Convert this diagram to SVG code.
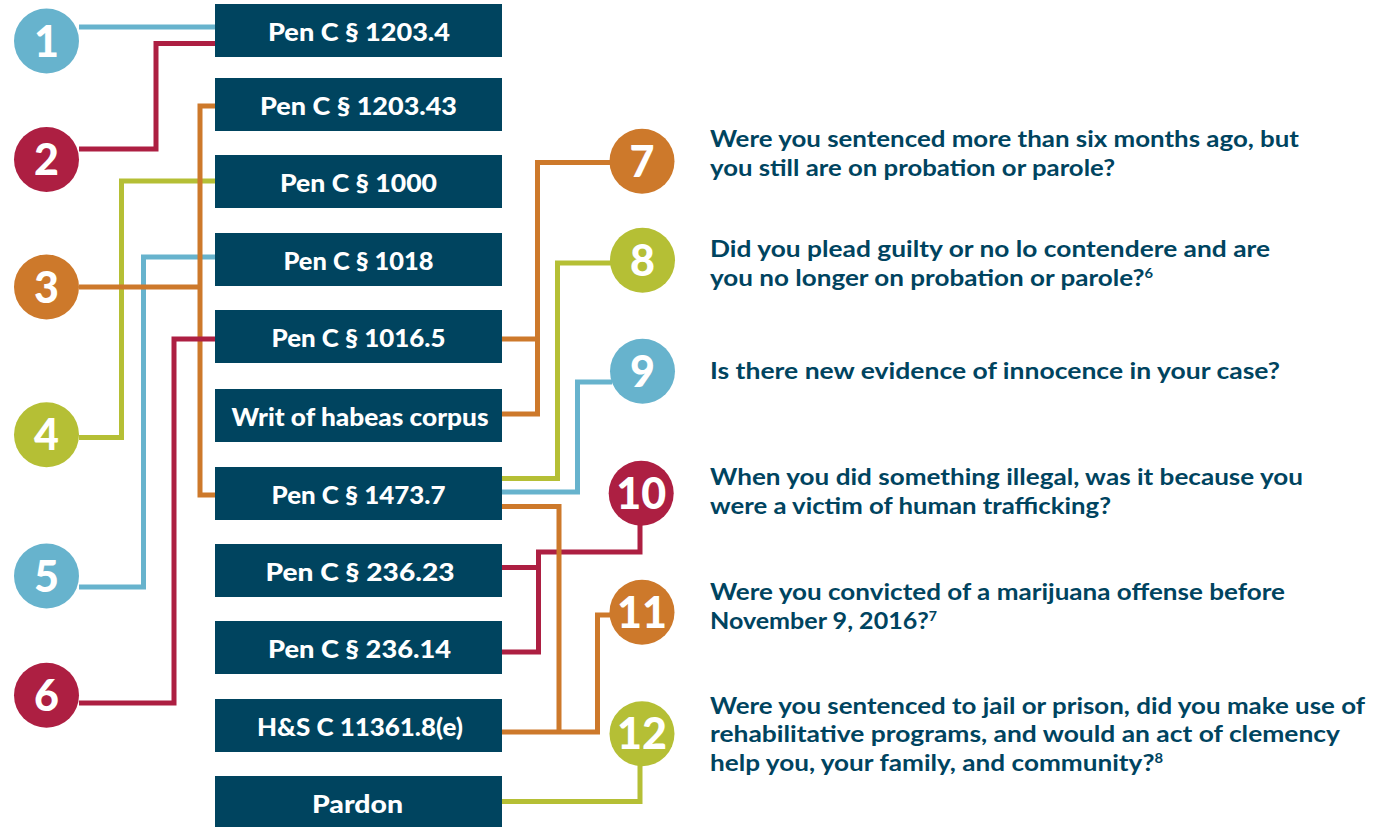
<svg xmlns="http://www.w3.org/2000/svg" width="1383" height="827" viewBox="0 0 1383 827">
<style>
.bx{fill:#00445f}
.bt{font-family:Lato,"Liberation Sans",sans-serif;font-weight:900;font-size:25px;fill:#ffffff;text-anchor:middle}
.cn{font-family:Lato,"Liberation Sans",sans-serif;font-weight:900;font-size:43px;fill:#ffffff;text-anchor:middle}
.q{font-family:Lato,"Liberation Sans",sans-serif;font-weight:700;font-size:23px;fill:#00445f}
.sup{font-size:13px}
.ln{fill:none;stroke-width:5;stroke-linejoin:miter;stroke-linecap:butt}
.blue{stroke:#67b3cd}.red{stroke:#ad1f42}.org{stroke:#cd792b}.grn{stroke:#b5bf35}
.fblue{fill:#67b3cd}.fred{fill:#ad1f42}.forg{fill:#cd792b}.fgrn{fill:#b5bf35}
</style>
<rect width="1383" height="827" fill="#ffffff"/>
<g id="connectors">
<path class="ln blue" d="M79 27 H216"/>
<path class="ln red" d="M79 149 H156 V43.5 H216"/>
<path class="ln grn" d="M79 437.5 H121.5 V181 H216"/>
<path class="ln blue" d="M79 587 H143.5 V257 H216"/>
<path class="ln org" d="M216 106 H200 V495 H216 M79 287 H200"/>
<path class="ln red" d="M79 703 H174 V339 H216"/>
<path class="ln org" d="M612 162.5 H537.5 V414 H502 M502 339 H537.5"/>
<path class="ln grn" d="M612 263 H557.5 V478.5 H502"/>
<path class="ln blue" d="M612 382 H577.5 V492 H502"/>
<path class="ln red" d="M640 524 V552 H538.5 V652 H502 M502 567.5 H538.5"/>
<path class="ln org" d="M502 506.5 H559 V732 H502 M612 615 H597.5 V732 H559"/>
<path class="ln grn" d="M640 764 V801.5 H502"/>
</g>
<g id="n1"><circle class="fblue" cx="46.5" cy="41" r="32.5"/><text class="cn" x="46.5" y="56.5">1</text></g>
<g id="n2"><circle class="fred" cx="46.5" cy="159.5" r="32.5"/><text class="cn" x="46.5" y="175">2</text></g>
<g id="n3"><circle class="forg" cx="46.5" cy="287" r="32.5"/><text class="cn" x="46.5" y="302.5">3</text></g>
<g id="n4"><circle class="fgrn" cx="46.5" cy="434.7" r="32.5"/><text class="cn" x="46.5" y="450">4</text></g>
<g id="n5"><circle class="fblue" cx="46.5" cy="576" r="32.5"/><text class="cn" x="46.5" y="591.5">5</text></g>
<g id="n6"><circle class="fred" cx="46.5" cy="695.3" r="32.5"/><text class="cn" x="46.5" y="711">6</text></g>
<g id="n7"><circle class="forg" cx="642" cy="161.2" r="32.5"/><text class="cn" x="642" y="176.5">7</text></g>
<g id="n8"><circle class="fgrn" cx="642.5" cy="260.2" r="32.5"/><text class="cn" x="642.5" y="275.5">8</text></g>
<g id="n9"><circle class="fblue" cx="642.5" cy="371.2" r="32.5"/><text class="cn" x="642.5" y="386.5">9</text></g>
<g id="n10"><circle class="fred" cx="641.2" cy="493.3" r="32.5"/><text class="cn" x="641.2" y="508.5">10</text></g>
<g id="n11"><circle class="forg" cx="642" cy="612.2" r="32.5"/><text class="cn" x="642" y="627.5">11</text></g>
<g id="n12"><circle class="fgrn" cx="642" cy="733.8" r="32.5"/><text class="cn" x="642" y="749">12</text></g>
<g id="b1"><rect class="bx" x="215" y="4" width="287" height="53"/><text class="bt" x="359" y="41" textLength="182" lengthAdjust="spacingAndGlyphs">Pen C § 1203.4</text></g>
<g id="b2"><rect class="bx" x="215" y="78" width="287" height="53"/><text class="bt" x="358.5" y="115" textLength="197" lengthAdjust="spacingAndGlyphs">Pen C § 1203.43</text></g>
<g id="b3"><rect class="bx" x="215" y="155" width="287" height="53"/><text class="bt" x="358.5" y="192" textLength="157" lengthAdjust="spacingAndGlyphs">Pen C § 1000</text></g>
<g id="b4"><rect class="bx" x="215" y="233" width="287" height="53"/><text class="bt" x="358.5" y="270" textLength="150" lengthAdjust="spacingAndGlyphs">Pen C § 1018</text></g>
<g id="b5"><rect class="bx" x="215" y="310" width="287" height="53"/><text class="bt" x="358.5" y="347" textLength="174" lengthAdjust="spacingAndGlyphs">Pen C § 1016.5</text></g>
<g id="b6"><rect class="bx" x="215" y="389" width="287" height="53"/><text class="bt" x="360" y="426" textLength="257" lengthAdjust="spacingAndGlyphs">Writ of habeas corpus</text></g>
<g id="b7"><rect class="bx" x="215" y="467" width="287" height="53"/><text class="bt" x="358.5" y="504" textLength="174" lengthAdjust="spacingAndGlyphs">Pen C § 1473.7</text></g>
<g id="b8"><rect class="bx" x="215" y="544" width="287" height="53"/><text class="bt" x="360" y="581" textLength="189" lengthAdjust="spacingAndGlyphs">Pen C § 236.23</text></g>
<g id="b9"><rect class="bx" x="215" y="621" width="287" height="53"/><text class="bt" x="359.5" y="658" textLength="183" lengthAdjust="spacingAndGlyphs">Pen C § 236.14</text></g>
<g id="b10"><rect class="bx" x="215" y="699" width="287" height="53"/><text class="bt" x="360" y="736" textLength="206" lengthAdjust="spacingAndGlyphs">H&amp;S C 11361.8(e)</text></g>
<g id="b11"><rect class="bx" x="215" y="776" width="287" height="53"/><text class="bt" x="357.5" y="813" textLength="91" lengthAdjust="spacingAndGlyphs">Pardon</text></g>
<g id="q7"><text class="q" x="710" y="147" textLength="589" lengthAdjust="spacingAndGlyphs">Were you sentenced more than six months ago, but</text><text class="q" x="710" y="175.5" textLength="405" lengthAdjust="spacingAndGlyphs">you still are on probation or parole?</text></g>
<g id="q8"><text class="q" x="710" y="257" textLength="560" lengthAdjust="spacingAndGlyphs">Did you plead guilty or no lo contendere and are</text><text class="q" x="710" y="286" textLength="443" lengthAdjust="spacingAndGlyphs">you no longer on probation or parole?<tspan class="sup" dy="-8">6</tspan></text></g>
<g id="q9"><text class="q" x="710" y="378.5" textLength="570" lengthAdjust="spacingAndGlyphs">Is there new evidence of innocence in your case?</text></g>
<g id="q10"><text class="q" x="710" y="485" textLength="593" lengthAdjust="spacingAndGlyphs">When you did something illegal, was it because you</text><text class="q" x="710" y="514" textLength="401" lengthAdjust="spacingAndGlyphs">were a victim of human trafficking?</text></g>
<g id="q11"><text class="q" x="710" y="600" textLength="575" lengthAdjust="spacingAndGlyphs">Were you convicted of a marijuana offense before</text><text class="q" x="710" y="628.5" textLength="227" lengthAdjust="spacingAndGlyphs">November 9, 2016?<tspan class="sup" dy="-8">7</tspan></text></g>
<g id="q12"><text class="q" x="710" y="713.5" textLength="655" lengthAdjust="spacingAndGlyphs">Were you sentenced to jail or prison, did you make use of</text><text class="q" x="710" y="742" textLength="630" lengthAdjust="spacingAndGlyphs">rehabilitative programs, and would an act of clemency</text><text class="q" x="710" y="770.5" textLength="453" lengthAdjust="spacingAndGlyphs">help you, your family, and community?<tspan class="sup" dy="-8">8</tspan></text></g>
</svg>
